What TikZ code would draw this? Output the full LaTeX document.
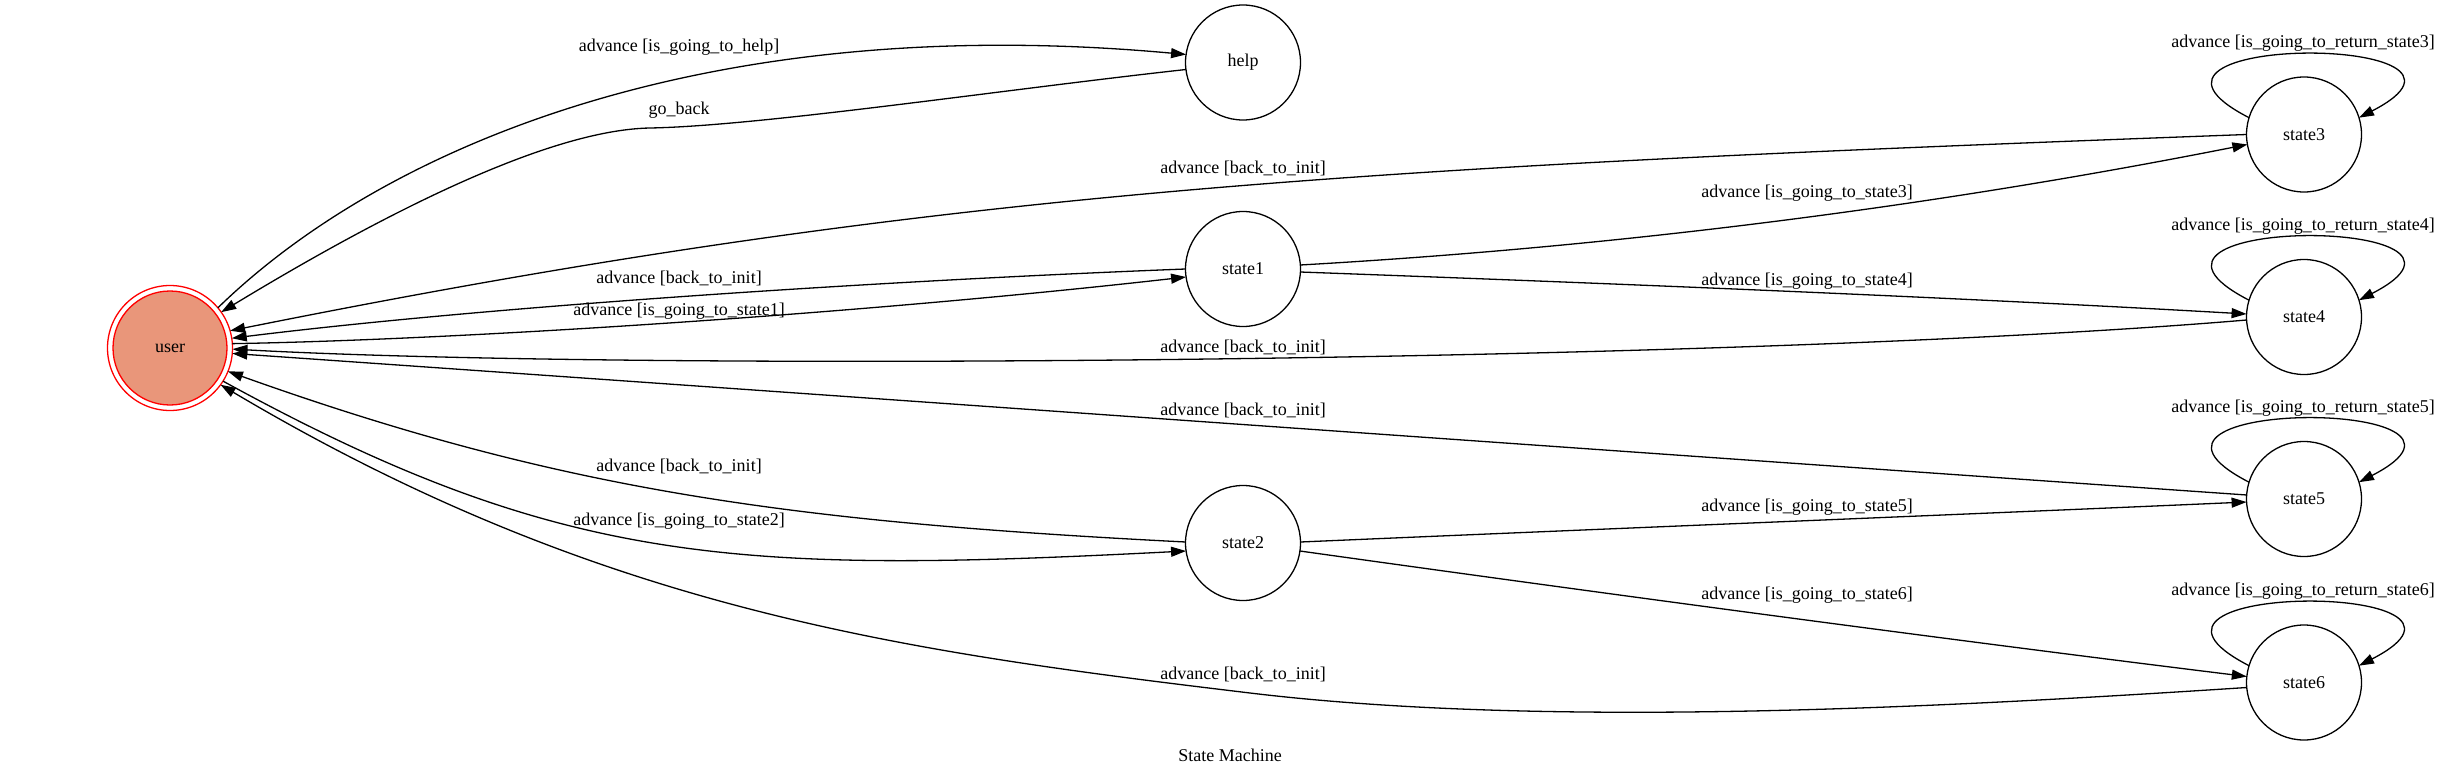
\documentclass[tikz,border=0pt]{standalone}
\usepackage{fontspec}
\setmainfont{Liberation Serif}
\usetikzlibrary{arrows.meta}
\definecolor{usrfill}{RGB}{233,150,122}
\begin{document}
\begin{tikzpicture}[x=1pt,y=-1pt,
  txt/.style={font=\fontsize{18}{20}\selectfont},
  st/.style={circle,draw,line width=1.3pt,minimum size=115pt,inner sep=0pt,outer sep=0pt,txt},
  lbl/.style={inner sep=0pt,txt},
  tr/.style={line width=1.3pt,-{Triangle[length=15pt,width=10pt]}},
]
\fill[white] (0,0) rectangle (2460,776);
\useasboundingbox (0,0) rectangle (2460,776);

% nodes
\node[st] (help) at (1243,62.5) {help};
\node[st] (state1) at (1243,269) {state1};
\node[st] (state2) at (1243,543) {state2};
\node[st] (state3) at (2304,134.5) {state3};
\node[st] (state4) at (2304,317) {state4};
\node[st] (state5) at (2304,499) {state5};
\node[st] (state6) at (2304,682.5) {state6};
\node[circle,draw=red,line width=1.3pt,minimum size=125pt,inner sep=0pt,outer sep=0pt] (user) at (170,348) {};
\node[circle,draw=red,fill=usrfill,line width=1.3pt,minimum size=114pt,inner sep=0pt,txt] (userin) at (170,348) {user};

% edges
\draw[tr] (user.40) .. controls (380,150) and (700,10) .. (help.172);
\draw[tr] (help.187) .. controls (1000,90) and (760,126) .. (650,128) .. controls (540,130) and (360,228) .. (user.35);
\draw[tr] (state3.180) .. controls (1347,168) and (932,190) .. (user.16);
\draw[tr] (state1.180) .. controls (900,280) and (500,305) .. (user.9);
\draw[tr] (user.4) .. controls (450,340) and (850,315) .. (state1.188);
\draw[tr] (state4.183) .. controls (1750,362) and (650,372) .. (user.-1);
\draw[tr] (state5.176) .. controls (1600,450) and (800,393) .. (user.-5);
\draw[tr] (state2.179) .. controls (786,521.7) and (560,490) .. (user.-22);
\draw[tr] (user.-32) .. controls (562,567) and (737,574) .. (state2.188);
\draw[tr] (state6.185) .. controls (1947,707) and (1550,729) .. (1250,693) .. controls (900,651) and (600,610) .. (user.-36);
\draw[tr] (state1.4) .. controls (1616,247) and (1931,207) .. (state3.190);
\draw[tr] (state1.-3) .. controls (1600,283) and (1950,297) .. (state4.177);
\draw[tr] (state2.1) .. controls (1600,529) and (1950,515) .. (state5.183);
\draw[tr] (state2.-8) .. controls (1600,593) and (1950,640) .. (state6.174);

% self loops
\foreach \s in {state3,state4,state5,state6}{
  \draw[tr] (\s.163) .. controls +(-165,-85) and +(165,-85) .. (\s.17);
}

% labels
\node[lbl] (l1) at (679,47) {advance [is\_going\_to\_help]};
\node[lbl] (l2) at (679,110) {go\_back};
\node[lbl] (l3) at (1243,168) {advance [back\_to\_init]};
\node[lbl] (l4) at (1807,193) {advance [is\_going\_to\_state3]};
\node[lbl] (l5) at (679,278) {advance [back\_to\_init]};
\node[lbl] (l6) at (679,311) {advance [is\_going\_to\_state1]};
\node[lbl] (l7) at (1807,281) {advance [is\_going\_to\_state4]};
\node[lbl] (l8) at (1243,347) {advance [back\_to\_init]};
\node[lbl] (l9) at (1243,410) {advance [back\_to\_init]};
\node[lbl] (l10) at (679,466) {advance [back\_to\_init]};
\node[lbl] (l11) at (679,521) {advance [is\_going\_to\_state2]};
\node[lbl] (l12) at (1807,507) {advance [is\_going\_to\_state5]};
\node[lbl] (l13) at (1807,595) {advance [is\_going\_to\_state6]};
\node[lbl] (l14) at (1243,674) {advance [back\_to\_init]};
\node[lbl] (r3) at (2303,43) {advance [is\_going\_to\_return\_state3]};
\node[lbl] (r4) at (2303,226) {advance [is\_going\_to\_return\_state4]};
\node[lbl] (r5) at (2303,408) {advance [is\_going\_to\_return\_state5]};
\node[lbl] (r6) at (2303,591) {advance [is\_going\_to\_return\_state6]};
\node[lbl] (title) at (1230,755) {State Machine};
\end{tikzpicture}
\end{document}
